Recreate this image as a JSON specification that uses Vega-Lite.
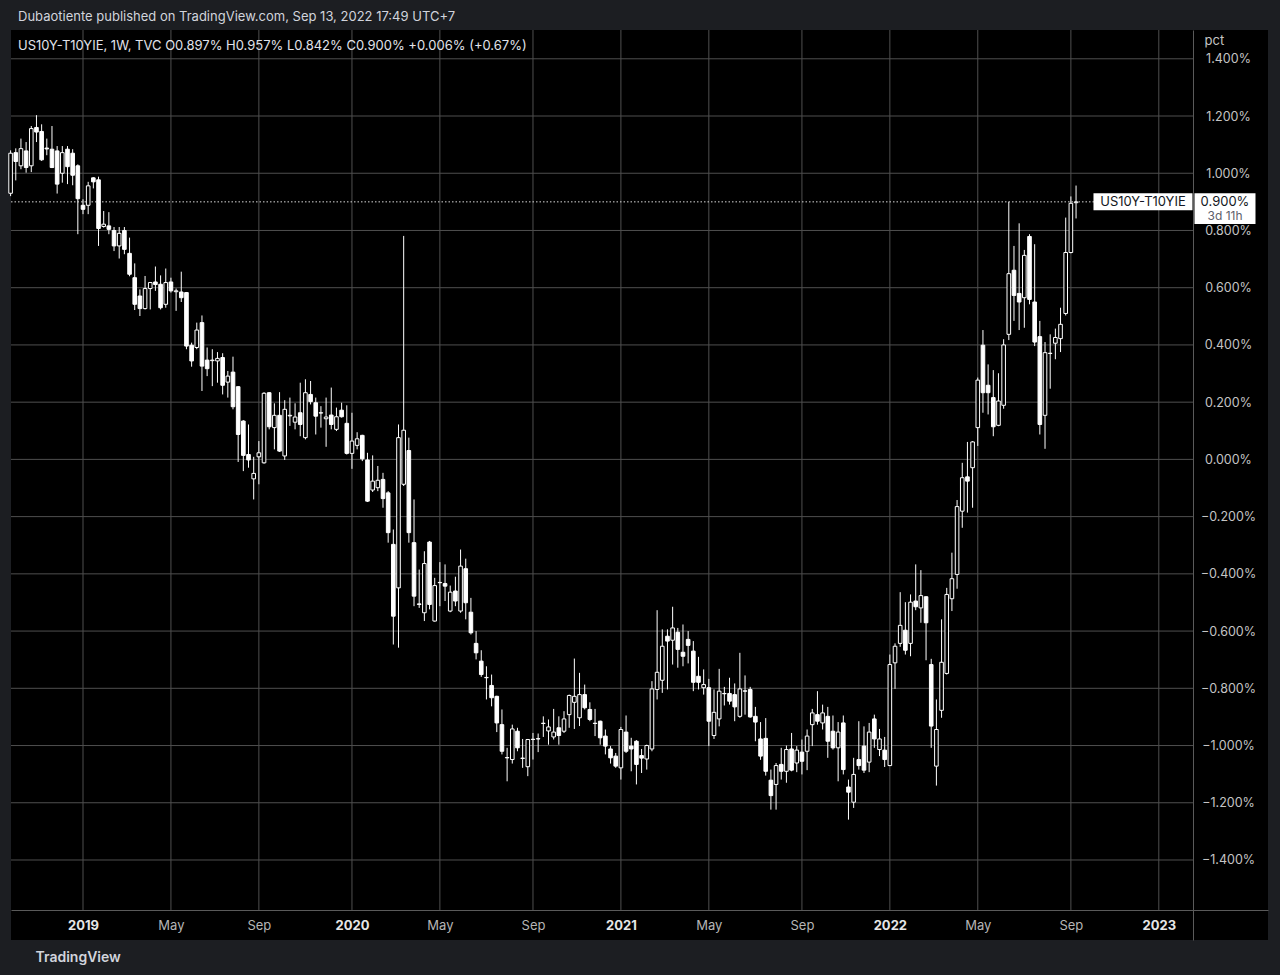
{
"$schema": "https://vega.github.io/schema/vega-lite/v6.json",
"width": 1257,
"height": 910,
"autosize": {"type": "none"},
"padding": {"left": 11, "top": 30, "right": 12, "bottom": 35},
"background": "#1c1e22",
"config": {"view": {"fill": "#000000", "stroke": null}, "font": "Inter"},
"title": {"text": "Dubaotiente published on TradingView.com, Sep 13, 2022 17:49 UTC+7", "subtitle": "US10Y-T10YIE, 1W, TVC  O0.897%  H0.957%  L0.842%  C0.900%  +0.006% (+0.67%)", "anchor": "start", "frame": "group", "orient": "top", "offset": -23, "dx": 7, "font": "Inter", "fontSize": 13, "fontWeight": "normal", "color": "#d1d4dc", "subtitleFont": "Inter", "subtitleFontSize": 13, "subtitleColor": "#e0e3eb", "subtitlePadding": 16},
"datasets": {
"ohlc": [
{"d":"2018-10-01","o":0.93,"h":1.08,"l":0.92,"c":1.07},
{"d":"2018-10-08","o":1.072,"h":1.087,"l":0.975,"c":1.041},
{"d":"2018-10-15","o":1.026,"h":1.121,"l":1.014,"c":1.086},
{"d":"2018-10-22","o":1.078,"h":1.109,"l":1.002,"c":1.02},
{"d":"2018-10-29","o":1.026,"h":1.165,"l":1.004,"c":1.156},
{"d":"2018-11-05","o":1.16,"h":1.203,"l":1.109,"c":1.144},
{"d":"2018-11-12","o":1.146,"h":1.171,"l":1.043,"c":1.047},
{"d":"2018-11-19","o":1.088,"h":1.121,"l":1.063,"c":1.085},
{"d":"2018-11-26","o":1.084,"h":1.165,"l":1.018,"c":1.02},
{"d":"2018-12-03","o":1.078,"h":1.095,"l":0.929,"c":0.962},
{"d":"2018-12-10","o":1.0,"h":1.095,"l":0.967,"c":1.072},
{"d":"2018-12-17","o":1.084,"h":1.095,"l":0.962,"c":1.023},
{"d":"2018-12-24","o":1.07,"h":1.084,"l":0.958,"c":0.993},
{"d":"2018-12-31","o":1.026,"h":1.031,"l":0.787,"c":0.911},
{"d":"2019-01-07","o":0.888,"h":0.909,"l":0.857,"c":0.874},
{"d":"2019-01-14","o":0.888,"h":0.97,"l":0.857,"c":0.956},
{"d":"2019-01-21","o":0.984,"h":0.986,"l":0.947,"c":0.97},
{"d":"2019-01-28","o":0.977,"h":0.988,"l":0.746,"c":0.807},
{"d":"2019-02-04","o":0.814,"h":0.868,"l":0.81,"c":0.822},
{"d":"2019-02-11","o":0.816,"h":0.864,"l":0.787,"c":0.804},
{"d":"2019-02-18","o":0.8,"h":0.812,"l":0.728,"c":0.746},
{"d":"2019-02-25","o":0.746,"h":0.812,"l":0.702,"c":0.79},
{"d":"2019-03-04","o":0.8,"h":0.812,"l":0.717,"c":0.734},
{"d":"2019-03-11","o":0.72,"h":0.775,"l":0.64,"c":0.647},
{"d":"2019-03-18","o":0.635,"h":0.685,"l":0.522,"c":0.542},
{"d":"2019-03-25","o":0.571,"h":0.594,"l":0.501,"c":0.527},
{"d":"2019-04-01","o":0.527,"h":0.641,"l":0.524,"c":0.597},
{"d":"2019-04-08","o":0.597,"h":0.62,"l":0.524,"c":0.618},
{"d":"2019-04-15","o":0.62,"h":0.674,"l":0.589,"c":0.611},
{"d":"2019-04-22","o":0.612,"h":0.643,"l":0.524,"c":0.53},
{"d":"2019-04-29","o":0.542,"h":0.667,"l":0.53,"c":0.618},
{"d":"2019-05-06","o":0.62,"h":0.635,"l":0.583,"c":0.589},
{"d":"2019-05-13","o":0.586,"h":0.597,"l":0.519,"c":0.589},
{"d":"2019-05-20","o":0.585,"h":0.656,"l":0.55,"c":0.565},
{"d":"2019-05-27","o":0.583,"h":0.585,"l":0.385,"c":0.396},
{"d":"2019-06-03","o":0.399,"h":0.408,"l":0.324,"c":0.344},
{"d":"2019-06-10","o":0.391,"h":0.478,"l":0.385,"c":0.452},
{"d":"2019-06-17","o":0.478,"h":0.503,"l":0.239,"c":0.326},
{"d":"2019-06-24","o":0.347,"h":0.391,"l":0.291,"c":0.317},
{"d":"2019-07-01","o":0.345,"h":0.385,"l":0.256,"c":0.347},
{"d":"2019-07-08","o":0.344,"h":0.375,"l":0.268,"c":0.353},
{"d":"2019-07-15","o":0.356,"h":0.371,"l":0.227,"c":0.259},
{"d":"2019-07-22","o":0.27,"h":0.309,"l":0.216,"c":0.291},
{"d":"2019-07-29","o":0.305,"h":0.359,"l":0.175,"c":0.184},
{"d":"2019-08-05","o":0.254,"h":0.256,"l":-0.009,"c":0.087},
{"d":"2019-08-12","o":0.134,"h":0.137,"l":-0.041,"c":0.014},
{"d":"2019-08-19","o":0.017,"h":0.122,"l":-0.029,"c":-0.002},
{"d":"2019-08-26","o":-0.068,"h":0.009,"l":-0.14,"c":-0.049},
{"d":"2019-09-02","o":0.009,"h":0.064,"l":-0.087,"c":0.023},
{"d":"2019-09-09","o":-0.012,"h":0.235,"l":-0.015,"c":0.231},
{"d":"2019-09-16","o":0.233,"h":0.235,"l":0.105,"c":0.114},
{"d":"2019-09-23","o":0.111,"h":0.196,"l":0.035,"c":0.154},
{"d":"2019-09-30","o":0.154,"h":0.235,"l":0.026,"c":0.029},
{"d":"2019-10-07","o":0.012,"h":0.207,"l":-0.002,"c":0.175},
{"d":"2019-10-14","o":0.152,"h":0.216,"l":0.117,"c":0.154},
{"d":"2019-10-21","o":0.13,"h":0.196,"l":0.105,"c":0.148},
{"d":"2019-10-28","o":0.163,"h":0.268,"l":0.081,"c":0.122},
{"d":"2019-11-04","o":0.076,"h":0.28,"l":0.07,"c":0.233},
{"d":"2019-11-11","o":0.227,"h":0.274,"l":0.192,"c":0.202},
{"d":"2019-11-18","o":0.198,"h":0.216,"l":0.087,"c":0.151},
{"d":"2019-11-25","o":0.162,"h":0.186,"l":0.111,"c":0.163},
{"d":"2019-12-02","o":0.142,"h":0.216,"l":0.044,"c":0.148},
{"d":"2019-12-09","o":0.155,"h":0.251,"l":0.105,"c":0.122},
{"d":"2019-12-16","o":0.105,"h":0.181,"l":0.099,"c":0.149},
{"d":"2019-12-23","o":0.172,"h":0.198,"l":0.146,"c":0.149},
{"d":"2019-12-30","o":0.126,"h":0.189,"l":0.017,"c":0.021},
{"d":"2020-01-06","o":0.021,"h":0.163,"l":-0.033,"c":0.064},
{"d":"2020-01-13","o":0.049,"h":0.095,"l":0.035,"c":0.072},
{"d":"2020-01-20","o":0.084,"h":0.086,"l":-0.006,"c":0.002},
{"d":"2020-01-27","o":-0.002,"h":0.023,"l":-0.149,"c":-0.146},
{"d":"2020-02-03","o":-0.107,"h":0.014,"l":-0.114,"c":-0.076},
{"d":"2020-02-10","o":-0.099,"h":-0.023,"l":-0.111,"c":-0.073},
{"d":"2020-02-17","o":-0.07,"h":-0.047,"l":-0.169,"c":-0.137},
{"d":"2020-02-24","o":-0.117,"h":-0.111,"l":-0.291,"c":-0.256},
{"d":"2020-03-02","o":-0.297,"h":-0.245,"l":-0.647,"c":-0.548},
{"d":"2020-03-09","o":-0.449,"h":0.122,"l":-0.658,"c":0.076},
{"d":"2020-03-16","o":-0.087,"h":0.781,"l":-0.093,"c":0.102},
{"d":"2020-03-23","o":0.031,"h":0.076,"l":-0.291,"c":-0.256},
{"d":"2020-03-30","o":-0.291,"h":-0.14,"l":-0.513,"c":-0.478},
{"d":"2020-04-06","o":-0.505,"h":-0.385,"l":-0.519,"c":-0.507},
{"d":"2020-04-13","o":-0.536,"h":-0.321,"l":-0.565,"c":-0.364},
{"d":"2020-04-20","o":-0.289,"h":-0.285,"l":-0.524,"c":-0.507},
{"d":"2020-04-27","o":-0.565,"h":-0.414,"l":-0.567,"c":-0.441},
{"d":"2020-05-04","o":-0.43,"h":-0.359,"l":-0.513,"c":-0.431},
{"d":"2020-05-11","o":-0.434,"h":-0.367,"l":-0.495,"c":-0.443},
{"d":"2020-05-18","o":-0.53,"h":-0.441,"l":-0.534,"c":-0.464},
{"d":"2020-05-25","o":-0.46,"h":-0.41,"l":-0.513,"c":-0.495},
{"d":"2020-06-01","o":-0.53,"h":-0.315,"l":-0.536,"c":-0.373},
{"d":"2020-06-08","o":-0.382,"h":-0.347,"l":-0.559,"c":-0.501},
{"d":"2020-06-15","o":-0.534,"h":-0.484,"l":-0.612,"c":-0.606},
{"d":"2020-06-22","o":-0.643,"h":-0.6,"l":-0.699,"c":-0.676},
{"d":"2020-06-29","o":-0.705,"h":-0.667,"l":-0.76,"c":-0.752},
{"d":"2020-07-06","o":-0.762,"h":-0.723,"l":-0.839,"c":-0.763},
{"d":"2020-07-13","o":-0.79,"h":-0.752,"l":-0.863,"c":-0.833},
{"d":"2020-07-20","o":-0.828,"h":-0.826,"l":-0.953,"c":-0.921},
{"d":"2020-07-27","o":-0.927,"h":-0.874,"l":-1.031,"c":-1.02},
{"d":"2020-08-03","o":-1.042,"h":-1.008,"l":-1.125,"c":-1.043},
{"d":"2020-08-10","o":-1.049,"h":-0.927,"l":-1.063,"c":-0.942},
{"d":"2020-08-17","o":-0.95,"h":-0.938,"l":-1.02,"c":-1.008},
{"d":"2020-08-24","o":-1.044,"h":-0.977,"l":-1.078,"c":-1.045},
{"d":"2020-08-31","o":-1.074,"h":-0.977,"l":-1.107,"c":-0.979},
{"d":"2020-09-07","o":-0.978,"h":-0.956,"l":-1.049,"c":-0.979},
{"d":"2020-09-14","o":-0.976,"h":-0.958,"l":-1.023,"c":-0.977},
{"d":"2020-09-21","o":-0.922,"h":-0.898,"l":-0.97,"c":-0.923},
{"d":"2020-09-28","o":-0.949,"h":-0.909,"l":-0.997,"c":-0.935},
{"d":"2020-10-05","o":-0.97,"h":-0.872,"l":-0.979,"c":-0.953},
{"d":"2020-10-12","o":-0.938,"h":-0.898,"l":-0.997,"c":-0.965},
{"d":"2020-10-19","o":-0.95,"h":-0.88,"l":-0.956,"c":-0.907},
{"d":"2020-10-26","o":-0.892,"h":-0.822,"l":-0.938,"c":-0.825},
{"d":"2020-11-02","o":-0.849,"h":-0.696,"l":-0.942,"c":-0.828},
{"d":"2020-11-09","o":-0.903,"h":-0.746,"l":-0.932,"c":-0.822},
{"d":"2020-11-16","o":-0.822,"h":-0.787,"l":-0.874,"c":-0.868},
{"d":"2020-11-23","o":-0.874,"h":-0.849,"l":-0.915,"c":-0.909},
{"d":"2020-11-30","o":-0.922,"h":-0.872,"l":-0.967,"c":-0.923},
{"d":"2020-12-07","o":-0.915,"h":-0.913,"l":-0.997,"c":-0.973},
{"d":"2020-12-14","o":-0.967,"h":-0.944,"l":-1.031,"c":-1.002},
{"d":"2020-12-21","o":-1.012,"h":-1.002,"l":-1.063,"c":-1.043},
{"d":"2020-12-28","o":-1.037,"h":-1.026,"l":-1.078,"c":-1.072},
{"d":"2021-01-04","o":-1.078,"h":-0.935,"l":-1.119,"c":-0.944},
{"d":"2021-01-11","o":-0.953,"h":-0.895,"l":-1.026,"c":-1.02},
{"d":"2021-01-18","o":-1.002,"h":-0.973,"l":-1.09,"c":-1.012},
{"d":"2021-01-25","o":-0.985,"h":-0.981,"l":-1.136,"c":-1.066},
{"d":"2021-02-01","o":-1.035,"h":-1.012,"l":-1.096,"c":-1.044},
{"d":"2021-02-08","o":-1.047,"h":-0.997,"l":-1.084,"c":-1.0},
{"d":"2021-02-15","o":-1.012,"h":-0.775,"l":-1.02,"c":-0.802},
{"d":"2021-02-22","o":-0.804,"h":-0.527,"l":-0.839,"c":-0.744},
{"d":"2021-03-01","o":-0.772,"h":-0.594,"l":-0.816,"c":-0.653},
{"d":"2021-03-08","o":-0.618,"h":-0.594,"l":-0.804,"c":-0.635},
{"d":"2021-03-15","o":-0.632,"h":-0.515,"l":-0.717,"c":-0.589},
{"d":"2021-03-22","o":-0.604,"h":-0.589,"l":-0.728,"c":-0.664},
{"d":"2021-03-29","o":-0.674,"h":-0.577,"l":-0.723,"c":-0.688},
{"d":"2021-04-05","o":-0.629,"h":-0.6,"l":-0.713,"c":-0.65},
{"d":"2021-04-12","o":-0.67,"h":-0.635,"l":-0.81,"c":-0.779},
{"d":"2021-04-19","o":-0.758,"h":-0.69,"l":-0.804,"c":-0.779},
{"d":"2021-04-26","o":-0.798,"h":-0.734,"l":-0.822,"c":-0.787},
{"d":"2021-05-03","o":-0.798,"h":-0.767,"l":-1.002,"c":-0.915},
{"d":"2021-05-10","o":-0.965,"h":-0.804,"l":-0.977,"c":-0.884},
{"d":"2021-05-17","o":-0.907,"h":-0.732,"l":-0.933,"c":-0.81},
{"d":"2021-05-24","o":-0.818,"h":-0.795,"l":-0.86,"c":-0.819},
{"d":"2021-05-31","o":-0.818,"h":-0.763,"l":-0.857,"c":-0.845},
{"d":"2021-06-07","o":-0.822,"h":-0.783,"l":-0.915,"c":-0.865},
{"d":"2021-06-14","o":-0.898,"h":-0.676,"l":-0.903,"c":-0.802},
{"d":"2021-06-21","o":-0.809,"h":-0.755,"l":-0.892,"c":-0.81},
{"d":"2021-06-28","o":-0.804,"h":-0.795,"l":-0.903,"c":-0.9},
{"d":"2021-07-05","o":-0.898,"h":-0.865,"l":-0.985,"c":-0.918},
{"d":"2021-07-12","o":-0.977,"h":-0.918,"l":-1.05,"c":-1.037},
{"d":"2021-07-19","o":-0.975,"h":-0.904,"l":-1.105,"c":-1.09},
{"d":"2021-07-26","o":-1.121,"h":-1.084,"l":-1.224,"c":-1.175},
{"d":"2021-08-02","o":-1.136,"h":-1.061,"l":-1.224,"c":-1.07},
{"d":"2021-08-09","o":-1.066,"h":-1.008,"l":-1.119,"c":-1.09},
{"d":"2021-08-16","o":-1.09,"h":-1.0,"l":-1.13,"c":-1.014},
{"d":"2021-08-23","o":-1.012,"h":-0.956,"l":-1.09,"c":-1.086},
{"d":"2021-08-30","o":-1.061,"h":-1.002,"l":-1.093,"c":-1.016},
{"d":"2021-09-06","o":-1.023,"h":-0.979,"l":-1.101,"c":-1.055},
{"d":"2021-09-13","o":-1.02,"h":-0.944,"l":-1.086,"c":-0.967},
{"d":"2021-09-20","o":-0.927,"h":-0.872,"l":-1.002,"c":-0.886},
{"d":"2021-09-27","o":-0.892,"h":-0.81,"l":-0.927,"c":-0.915},
{"d":"2021-10-04","o":-0.921,"h":-0.857,"l":-0.944,"c":-0.886},
{"d":"2021-10-11","o":-0.898,"h":-0.865,"l":-1.043,"c":-0.985},
{"d":"2021-10-18","o":-0.95,"h":-0.895,"l":-1.014,"c":-1.008},
{"d":"2021-10-25","o":-1.008,"h":-0.918,"l":-1.125,"c":-0.953},
{"d":"2021-11-01","o":-0.921,"h":-0.895,"l":-1.101,"c":-1.084},
{"d":"2021-11-08","o":-1.145,"h":-1.119,"l":-1.259,"c":-1.163},
{"d":"2021-11-15","o":-1.198,"h":-1.043,"l":-1.218,"c":-1.101},
{"d":"2021-11-22","o":-1.049,"h":-0.915,"l":-1.084,"c":-1.07},
{"d":"2021-11-29","o":-1.002,"h":-0.933,"l":-1.096,"c":-1.086},
{"d":"2021-12-06","o":-1.058,"h":-0.921,"l":-1.093,"c":-0.953},
{"d":"2021-12-13","o":-0.907,"h":-0.892,"l":-1.008,"c":-0.977},
{"d":"2021-12-20","o":-1.014,"h":-0.942,"l":-1.037,"c":-0.977},
{"d":"2021-12-27","o":-1.016,"h":-0.97,"l":-1.075,"c":-1.049},
{"d":"2022-01-03","o":-1.07,"h":-0.682,"l":-1.072,"c":-0.717},
{"d":"2022-01-10","o":-0.711,"h":-0.643,"l":-0.802,"c":-0.653},
{"d":"2022-01-17","o":-0.643,"h":-0.464,"l":-0.655,"c":-0.58},
{"d":"2022-01-24","o":-0.597,"h":-0.499,"l":-0.682,"c":-0.667},
{"d":"2022-01-31","o":-0.643,"h":-0.472,"l":-0.688,"c":-0.499},
{"d":"2022-02-07","o":-0.495,"h":-0.367,"l":-0.527,"c":-0.515},
{"d":"2022-02-14","o":-0.519,"h":-0.387,"l":-0.571,"c":-0.476},
{"d":"2022-02-21","o":-0.48,"h":-0.478,"l":-0.702,"c":-0.571},
{"d":"2022-02-28","o":-0.717,"h":-0.697,"l":-1.008,"c":-0.932},
{"d":"2022-03-07","o":-1.072,"h":-0.839,"l":-1.14,"c":-0.944},
{"d":"2022-03-14","o":-0.877,"h":-0.559,"l":-0.903,"c":-0.709},
{"d":"2022-03-21","o":-0.748,"h":-0.449,"l":-0.752,"c":-0.472},
{"d":"2022-03-28","o":-0.487,"h":-0.326,"l":-0.53,"c":-0.417},
{"d":"2022-04-04","o":-0.402,"h":-0.142,"l":-0.452,"c":-0.165},
{"d":"2022-04-11","o":-0.181,"h":-0.012,"l":-0.239,"c":-0.064},
{"d":"2022-04-18","o":-0.061,"h":0.061,"l":-0.186,"c":-0.076},
{"d":"2022-04-25","o":-0.029,"h":0.064,"l":-0.169,"c":0.061},
{"d":"2022-05-02","o":0.111,"h":0.286,"l":0.047,"c":0.277},
{"d":"2022-05-09","o":0.399,"h":0.452,"l":0.163,"c":0.233},
{"d":"2022-05-16","o":0.259,"h":0.332,"l":0.157,"c":0.233},
{"d":"2022-05-23","o":0.216,"h":0.312,"l":0.081,"c":0.114},
{"d":"2022-05-30","o":0.119,"h":0.301,"l":0.116,"c":0.204},
{"d":"2022-06-06","o":0.189,"h":0.42,"l":0.177,"c":0.4},
{"d":"2022-06-13","o":0.437,"h":0.9,"l":0.417,"c":0.649},
{"d":"2022-06-20","o":0.661,"h":0.746,"l":0.484,"c":0.573},
{"d":"2022-06-27","o":0.58,"h":0.825,"l":0.452,"c":0.55},
{"d":"2022-07-04","o":0.565,"h":0.732,"l":0.46,"c":0.713},
{"d":"2022-07-11","o":0.779,"h":0.787,"l":0.542,"c":0.559},
{"d":"2022-07-18","o":0.55,"h":0.752,"l":0.396,"c":0.41},
{"d":"2022-07-25","o":0.429,"h":0.484,"l":0.087,"c":0.122},
{"d":"2022-08-01","o":0.154,"h":0.41,"l":0.037,"c":0.373},
{"d":"2022-08-08","o":0.37,"h":0.437,"l":0.247,"c":0.371},
{"d":"2022-08-15","o":0.406,"h":0.457,"l":0.35,"c":0.426},
{"d":"2022-08-22","o":0.422,"h":0.53,"l":0.375,"c":0.472},
{"d":"2022-08-29","o":0.51,"h":0.845,"l":0.503,"c":0.723},
{"d":"2022-09-05","o":0.723,"h":0.919,"l":0.72,"c":0.895},
{"d":"2022-09-12","o":0.897,"h":0.957,"l":0.842,"c":0.9}
],
"gridy": [{"v":-1.4},{"v":-1.2},{"v":-1.0},{"v":-0.8},{"v":-0.6},{"v":-0.4},{"v":-0.2},{"v":0},{"v":0.2},{"v":0.4},{"v":0.6},{"v":0.8},{"v":1.0},{"v":1.2},{"v":1.4}],
"gridx": [{"d":"2019-01-07"},{"d":"2019-05-06"},{"d":"2019-09-02"},{"d":"2020-01-06"},{"d":"2020-05-04"},{"d":"2020-09-07"},{"d":"2021-01-04"},{"d":"2021-05-03"},{"d":"2021-09-06"},{"d":"2022-01-03"},{"d":"2022-05-02"},{"d":"2022-09-05"},{"d":"2023-01-02"}],
"last": [{"sym":"US10Y-T10YIE","c":0.9,"cd":"3d 11h"}]
},
"layer": [
{"data":{"name":"gridy"},"mark":{"type":"rule","color":"#4f4f4f","strokeWidth":1},
 "encoding":{
  "y":{"field":"v","type":"quantitative","scale":{"domain":[-1.6796,1.5006],"nice":false,"zero":false}},
  "x":{"datum":{"year":2018,"month":10,"date":1,"hours":13,"utc":true},"type":"temporal","scale":{"type":"utc","padding":0,"domain":[{"year":2018,"month":10,"date":1,"hours":13,"utc":true},{"year":2023,"month":5,"date":29,"hours":19,"utc":true}]}},
  "x2":{"datum":{"year":2023,"month":2,"date":17,"hours":7,"utc":true}}}},
{"data":{"name":"gridx"},"mark":{"type":"rule","color":"#4f4f4f","strokeWidth":1},
 "encoding":{
  "x":{"field":"d","type":"temporal","scale":{"type":"utc","padding":0,"domain":[{"year":2018,"month":10,"date":1,"hours":13,"utc":true},{"year":2023,"month":5,"date":29,"hours":19,"utc":true}]}},
  "y":{"datum":1.5006,"type":"quantitative","scale":{"domain":[-1.6796,1.5006],"nice":false,"zero":false}},
  "y2":{"datum":-1.5747}}},
{"data":{"name":"last"},"mark":{"type":"rule","color":"#d8d8d8","strokeWidth":1,"strokeDash":[1.5,2]},
 "encoding":{
  "y":{"field":"c","type":"quantitative","scale":{"domain":[-1.6796,1.5006],"nice":false,"zero":false}},
  "x":{"datum":{"year":2018,"month":10,"date":1,"hours":13,"utc":true},"type":"temporal","scale":{"type":"utc","padding":0,"domain":[{"year":2018,"month":10,"date":1,"hours":13,"utc":true},{"year":2023,"month":5,"date":29,"hours":19,"utc":true}]}},
  "x2":{"datum":{"year":2023,"month":2,"date":17,"hours":7,"utc":true}}}},
{"data":{"name":"ohlc"},"mark":{"type":"rule","color":"#ffffff","strokeWidth":1},
 "encoding":{
  "x":{"field":"d","type":"temporal","scale":{"type":"utc","padding":0,"domain":[{"year":2018,"month":10,"date":1,"hours":13,"utc":true},{"year":2023,"month":5,"date":29,"hours":19,"utc":true}]},
   "axis":{"orient":"bottom","offset":-30,
    "values":[{"year":2019,"month":1,"date":7,"utc":true},{"year":2019,"month":5,"date":6,"utc":true},{"year":2019,"month":9,"date":2,"utc":true},{"year":2020,"month":1,"date":6,"utc":true},{"year":2020,"month":5,"date":4,"utc":true},{"year":2020,"month":9,"date":7,"utc":true},{"year":2021,"month":1,"date":4,"utc":true},{"year":2021,"month":5,"date":3,"utc":true},{"year":2021,"month":9,"date":6,"utc":true},{"year":2022,"month":1,"date":3,"utc":true},{"year":2022,"month":5,"date":2,"utc":true},{"year":2022,"month":9,"date":5,"utc":true},{"year":2023,"month":1,"date":2,"utc":true}],
    "labelExpr":"utcFormat(datum.value,'%m')=='01' ? utcFormat(datum.value,'%Y') : utcFormat(datum.value,'%b')",
    "labelFontWeight":{"condition":{"test":"utcFormat(datum.value,'%m')=='01'","value":"bold"},"value":"normal"},
    "labelColor":{"condition":{"test":"utcFormat(datum.value,'%m')=='01'","value":"#e6e6e6"},"value":"#b5b5b5"},
    "labelFont":"Inter","labelFontSize":13,"labelPadding":15,"labelBaseline":"middle","labelOverlap":false,"labelFlush":false,
    "ticks":false,"tickSize":0,"grid":false,"domain":true,"domainColor":"#5a5a5a",
    "title":"TradingView","titleX":24,"titleY":47,"titleAlign":"left","titleBaseline":"middle","titleFont":"Inter","titleFontSize":14,"titleFontWeight":600,"titleColor":"#d1d4dc"}},
  "y":{"field":"l","type":"quantitative","scale":{"domain":[-1.6796,1.5006],"nice":false,"zero":false},
   "axis":{"orient":"right","offset":-75,"values":[-1.4,-1.2,-1,-0.8,-0.6,-0.4,-0.2,0,0.2,0.4,0.6,0.8,1,1.2,1.4],
    "labelExpr":"format(datum.value,'.3f') + '%'","labelAlign":"center","labelBaseline":"middle","labelPadding":35,
    "labelFont":"Inter","labelFontSize":12.5,"labelColor":"#c4c4c4","labelOverlap":false,"labelFlush":false,
    "ticks":false,"tickSize":0,"grid":false,"domain":true,"domainColor":"#5a5a5a",
    "title":"pct","titleAngle":0,"titleX":11,"titleY":10,"titleAlign":"left","titleBaseline":"middle","titleFont":"Inter","titleFontSize":13,"titleFontWeight":"normal","titleColor":"#c4c4c4"}},
  "y2":{"field":"h"}}},
{"data":{"name":"ohlc"},"mark":{"type":"bar","width":3.6,"stroke":"#ffffff","strokeWidth":1},
 "encoding":{
  "x":{"field":"d","type":"temporal","scale":{"type":"utc","padding":0,"domain":[{"year":2018,"month":10,"date":1,"hours":13,"utc":true},{"year":2023,"month":5,"date":29,"hours":19,"utc":true}]}},
  "y":{"field":"o","type":"quantitative","scale":{"domain":[-1.6796,1.5006],"nice":false,"zero":false}},
  "y2":{"field":"c"},
  "fill":{"condition":{"test":"datum.c > datum.o","value":"#000000"},"value":"#ffffff"}}},
{"data":{"name":"last"},"mark":{"type":"point","filled":true,"opacity":1,"color":"#ffffff","size":9801,"shape":"M-1,-0.1717L1,-0.1717L1,0.1717L-1,0.1717Z"},
 "encoding":{
  "x":{"datum":{"year":2022,"month":12,"date":11,"hours":14,"utc":true},"type":"temporal","scale":{"type":"utc","padding":0,"domain":[{"year":2018,"month":10,"date":1,"hours":13,"utc":true},{"year":2023,"month":5,"date":29,"hours":19,"utc":true}]}},
  "y":{"field":"c","type":"quantitative","scale":{"domain":[-1.6796,1.5006],"nice":false,"zero":false}}}},
{"data":{"name":"last"},"mark":{"type":"point","filled":true,"opacity":1,"color":"#ffffff","size":3721,"shape":"M-1,-0.282L1,-0.282L1,0.725L-1,0.725Z"},
 "encoding":{
  "x":{"datum":{"year":2023,"month":4,"date":1,"hours":14,"utc":true},"type":"temporal","scale":{"type":"utc","padding":0,"domain":[{"year":2018,"month":10,"date":1,"hours":13,"utc":true},{"year":2023,"month":5,"date":29,"hours":19,"utc":true}]}},
  "y":{"field":"c","type":"quantitative","scale":{"domain":[-1.6796,1.5006],"nice":false,"zero":false}}}},
{"data":{"name":"last"},"mark":{"type":"text","font":"Inter","fontSize":13,"color":"#131722","align":"center","baseline":"middle"},
 "encoding":{
  "x":{"datum":{"year":2022,"month":12,"date":11,"hours":14,"utc":true},"type":"temporal","scale":{"type":"utc","padding":0,"domain":[{"year":2018,"month":10,"date":1,"hours":13,"utc":true},{"year":2023,"month":5,"date":29,"hours":19,"utc":true}]}},
  "y":{"field":"c","type":"quantitative","scale":{"domain":[-1.6796,1.5006],"nice":false,"zero":false}},
  "text":{"field":"sym"}}},
{"data":{"name":"last"},"transform":[{"calculate":"format(datum.c,'.3f') + '%'","as":"pl"}],"mark":{"type":"text","font":"Inter","fontSize":13,"color":"#131722","align":"center","baseline":"middle"},
 "encoding":{
  "x":{"datum":{"year":2023,"month":4,"date":1,"hours":14,"utc":true},"type":"temporal","scale":{"type":"utc","padding":0,"domain":[{"year":2018,"month":10,"date":1,"hours":13,"utc":true},{"year":2023,"month":5,"date":29,"hours":19,"utc":true}]}},
  "y":{"field":"c","type":"quantitative","scale":{"domain":[-1.6796,1.5006],"nice":false,"zero":false}},
  "text":{"field":"pl"}}},
{"data":{"name":"last"},"mark":{"type":"text","font":"Inter","fontSize":12,"color":"#5d606b","align":"center","baseline":"middle","dy":14},
 "encoding":{
  "x":{"datum":{"year":2023,"month":4,"date":1,"hours":14,"utc":true},"type":"temporal","scale":{"type":"utc","padding":0,"domain":[{"year":2018,"month":10,"date":1,"hours":13,"utc":true},{"year":2023,"month":5,"date":29,"hours":19,"utc":true}]}},
  "y":{"field":"c","type":"quantitative","scale":{"domain":[-1.6796,1.5006],"nice":false,"zero":false}},
  "text":{"field":"cd"}}}
]
}
